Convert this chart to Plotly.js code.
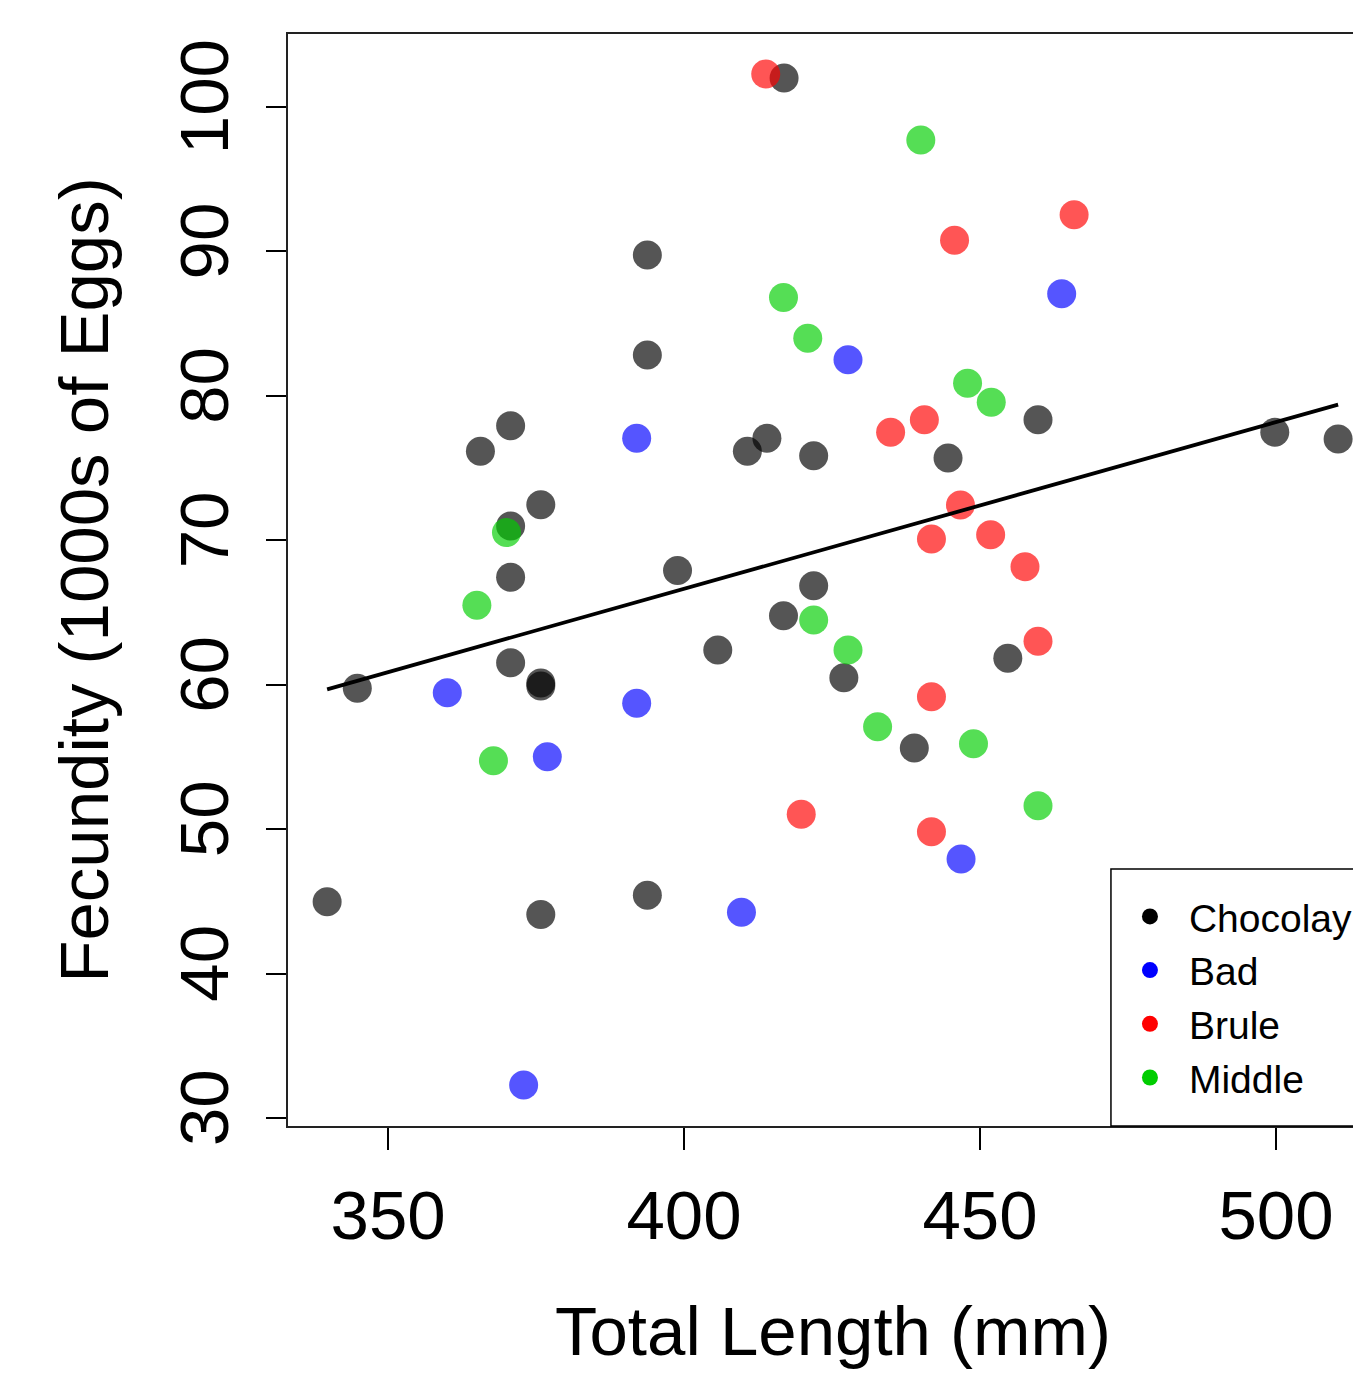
<!DOCTYPE html>
<html><head><meta charset="utf-8">
<script src="https://cdn.plot.ly/plotly-3.0.1.min.js"></script>
<style>html,body{margin:0;padding:0;overflow:hidden;background:#fff}#chart{width:1400px;height:1373px}</style>
</head><body><div id="chart"></div><script>
// Sites (categories)
const sites = ["Chocolay", "Bad", "Brule", "Middle"];

// Total length (mm) and fecundity (1000s of eggs) per site
const chocolayTL  = [416.9, 393.8, 393.8, 365.6, 370.7, 370.7, 375.8, 370.7, 370.7, 375.8, 375.8, 344.8, 339.7, 375.8, 393.8, 398.9, 405.7, 410.7, 414.0, 421.9, 421.9, 416.8, 427.0, 438.9, 444.6, 459.8, 454.7, 499.8, 510.5];
const chocolayFec = [102.0, 89.75, 82.83, 76.16, 77.93, 70.99, 72.46, 67.44, 61.52, 60.12, 59.91, 59.75, 44.98, 44.10, 45.42, 67.90, 62.40, 76.16, 77.06, 75.86, 66.86, 64.78, 60.49, 55.62, 75.70, 78.35, 61.83, 77.48, 77.01];

const badTL  = [392.0, 427.7, 463.8, 360.0, 392.0, 376.9, 409.7, 446.8, 372.9];
const badFec = [77.06, 82.50, 87.07, 59.45, 58.71, 55.02, 44.24, 47.93, 32.29];

const bruleTL  = [413.8, 465.9, 445.7, 434.9, 440.6, 446.7, 441.8, 451.8, 457.6, 459.8, 441.8, 419.8, 441.8];
const bruleFec = [102.28, 92.54, 90.77, 77.48, 78.35, 72.44, 70.09, 70.39, 68.17, 63.01, 59.17, 51.03, 49.82];

const middleTL  = [440.0, 416.8, 420.9, 447.9, 451.9, 370.0, 365.0, 421.9, 427.7, 432.7, 448.9, 367.8, 459.8];
const middleFec = [97.72, 86.80, 83.99, 80.87, 79.55, 70.53, 65.50, 64.48, 62.40, 57.09, 55.92, 54.74, 51.62];

// Fitted regression line: Fecundity = intercept + slope * TL
const fitIntercept = 20.48;
const fitSlope = 0.1154;

// Axis ticks
const xTicks = [350, 400, 450, 500];
const yTicks = [30, 40, 50, 60, 70, 80, 90, 100];

const tlSets  = [chocolayTL, badTL, bruleTL, middleTL];
const fecSets = [chocolayFec, badFec, bruleFec, middleFec];
const pointColors  = ["rgba(0,0,0,0.667)", "rgba(0,0,255,0.667)", "rgba(255,0,0,0.667)", "rgba(0,205,0,0.667)"];
const legendColors = ["#000000", "#0000ff", "#ff0000", "#00cd00"];

const FONT = "Liberation Sans, Arial, Helvetica, sans-serif";
const traces = [];
sites.forEach((s, i) => {
  traces.push({
    type: "scatter", mode: "markers", name: s, showlegend: false,
    x: tlSets[i], y: fecSets[i],
    marker: {size: 29, color: pointColors[i], line: {width: 0}},
    hoverinfo: "x+y+name"
  });
});
sites.forEach((s, i) => {
  traces.push({
    type: "scatter", mode: "markers", name: s, showlegend: true,
    x: [null], y: [null],
    marker: {size: 20, color: legendColors[i], line: {width: 0}},
    hoverinfo: "skip"
  });
});
const allTL = [].concat(...tlSets);
const xMin = Math.min(...allTL), xMax = Math.max(...allTL);
traces.push({
  type: "scatter", mode: "lines", showlegend: false, hoverinfo: "skip",
  x: [xMin, xMax],
  y: [fitIntercept + fitSlope * xMin, fitIntercept + fitSlope * xMax],
  line: {color: "#000", width: 3.8}
});

const layout = {
  width: 1400, height: 1373,
  margin: {l: 288, r: 22, t: 34, b: 247, pad: 0},
  paper_bgcolor: "#fff", plot_bgcolor: "#fff",
  font: {family: FONT, color: "#000"},
  showlegend: true,
  legend: {
    x: 0.755, xanchor: "left", y: 0.1181, yanchor: "middle",
    bgcolor: "rgba(0,0,0,0)", borderwidth: 0,
    itemwidth: 68, font: {family: FONT, size: 39, color: "#000"},
    traceorder: "normal"
  },
  xaxis: {
    range: [333.09, 517.24], tickmode: "array", tickvals: xTicks,
    ticktext: xTicks.map(String),
    ticks: "outside", ticklen: 22, tickwidth: 1.5, tickcolor: "#000",
    showline: true, mirror: true, linecolor: "#222", linewidth: 2,
    showgrid: false, zeroline: false,
    tickfont: {family: FONT, size: 69, color: "#000"},
    ticklabelstandoff: 6,
    title: {text: "Total Length (mm)", font: {family: FONT, size: 69, color: "#000"}, standoff: 54},
    automargin: false
  },
  yaxis: {
    range: [29.45, 105.05], tickmode: "array", tickvals: yTicks,
    ticktext: yTicks.map(String), tickangle: -90,
    ticks: "outside", ticklen: 20, tickwidth: 1.5, tickcolor: "#000",
    showline: true, mirror: true, linecolor: "#222", linewidth: 2,
    showgrid: false, zeroline: false,
    tickfont: {family: FONT, size: 69, color: "#000"},
    ticklabelstandoff: 10,
    title: {text: "Fecundity (1000s of Eggs)", font: {family: FONT, size: 69, color: "#000"}, standoff: 35},
    automargin: false
  },
  shapes: [{
    type: "rect", xref: "paper", yref: "paper",
    x0: 0.755, x1: 1, y0: 0, y1: 0.2353,
    line: {color: "#000", width: 1.5}, fillcolor: "rgba(0,0,0,0)", layer: "above"
  }]
};

Plotly.newPlot("chart", traces, layout, {displayModeBar: false, responsive: false});
</script></body></html>
